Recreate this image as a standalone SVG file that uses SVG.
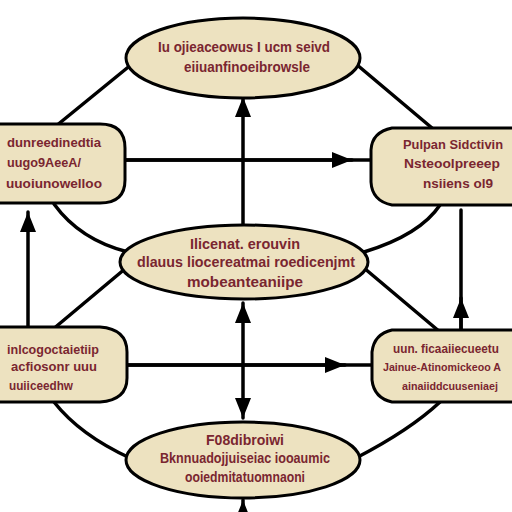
<svg xmlns="http://www.w3.org/2000/svg" width="512" height="512" viewBox="0 0 512 512">
<style>
.n{fill:#ede2c0;stroke:#000;stroke-width:3}
.c{fill:none;stroke:#000;stroke-width:3.5;stroke-linecap:round}
.t{font-family:"Liberation Sans",Arial,sans-serif;font-weight:bold;font-size:15px;fill:#7a2630;text-anchor:middle}
.s{font-size:13px}
.x{font-size:11px}
</style>
<defs>
<marker id="a" viewBox="0 0 20 16" refX="20" refY="8" markerWidth="20" markerHeight="16" markerUnits="userSpaceOnUse" orient="auto-start-reverse">
<path d="M0,0 L20,8 L0,16 z" fill="#000"/>
</marker>
</defs>
<rect width="512" height="512" fill="#fff"/>
<g id="connectors">
<path class="c" d="M132,64 L56,126"/>
<path class="c" d="M356,64 L432,128"/>
<path class="c" d="M54,204 Q80,240 128,252"/>
<path class="c" d="M126,268 L52,330"/>
<path class="c" d="M440,205 Q420,235 364,252"/>
<path class="c" d="M364,268 L440,332"/>
<path class="c" d="M54,402 Q80,435 130,458"/>
<path class="c" d="M356,458 Q410,430 440,402"/>
<path class="c" d="M125,160 L370,160"/>
<path class="c" d="M125,160 L352,160" marker-end="url(#a)"/>
<path class="c" d="M127,365 L372,365"/>
<path class="c" d="M127,365 L345,365" marker-end="url(#a)"/>
<path class="c" d="M243,226 L243,97" marker-end="url(#a)"/>
<path class="c" d="M28,327 L28,212" marker-end="url(#a)"/>
<path class="c" d="M461,210 L461,330"/>
<path class="c" d="M461,330 L461,298" marker-end="url(#a)"/>
<path class="c" d="M243,303 L243,418" marker-start="url(#a)" marker-end="url(#a)"/>
<path class="c" d="M243,512 L243,500" marker-end="url(#a)"/>
</g>
<g id="node-top">
<ellipse class="n" cx="243" cy="58" rx="117" ry="40"/>
<text class="t" x="244" y="52" textLength="172" lengthAdjust="spacingAndGlyphs">Iu ojieaceowus I ucm seivd</text>
<text class="t" x="247" y="72" textLength="126" lengthAdjust="spacingAndGlyphs">eiiuanfinoeibrowsle</text>
</g>
<g id="node-left-top">
<path class="n" d="M-10,124 L100,124 Q125,124 125,148 L125,180 Q125,203 100,203 L-10,203 z"/>
<text class="t s" x="54" y="147" textLength="94" lengthAdjust="spacingAndGlyphs">dunreedinedtia</text>
<text class="t s" x="44" y="167" textLength="74" lengthAdjust="spacingAndGlyphs">uugo9AeeA/</text>
<text class="t s" x="54" y="188" textLength="96" lengthAdjust="spacingAndGlyphs">uuoiunowelloo</text>
</g>
<g id="node-right-top">
<path class="n" d="M520,128 L392,128 Q372,132 371,150 L371,182 Q372,201 392,205 L520,205 z"/>
<text class="t s" x="453" y="149" textLength="100" lengthAdjust="spacingAndGlyphs">Pulpan Sidctivin</text>
<text class="t s" x="452" y="168" textLength="96" lengthAdjust="spacingAndGlyphs">Nsteoolpreeep</text>
<text class="t s" x="458" y="188" textLength="70" lengthAdjust="spacingAndGlyphs">nsiiens ol9</text>
</g>
<g id="node-center">
<ellipse class="n" cx="244" cy="262" rx="124" ry="37"/>
<text class="t" x="245" y="249" textLength="110" lengthAdjust="spacingAndGlyphs">Ilicenat. erouvin</text>
<text class="t" x="246" y="267" textLength="218" lengthAdjust="spacingAndGlyphs">dlauus liocereatmai roedicenjmt</text>
<text class="t" x="245" y="287" textLength="116" lengthAdjust="spacingAndGlyphs">mobeanteaniipe</text>
</g>
<g id="node-left-bottom">
<path class="n" d="M-10,327 L100,327 Q127,329 127,352 L127,378 Q127,400 100,402 L-10,402 z"/>
<text class="t s" x="53" y="354" textLength="92" lengthAdjust="spacingAndGlyphs">inlcogoctaietiip</text>
<text class="t s" x="54" y="371" textLength="86" lengthAdjust="spacingAndGlyphs">acfiosonr uuu</text>
<text class="t s" x="41" y="390" textLength="64" lengthAdjust="spacingAndGlyphs">uuiiceedhw</text>
</g>
<g id="node-right-bottom">
<path class="n" d="M520,330 L392,330 Q374,334 372,352 L372,380 Q374,398 392,402 L520,402 z"/>
<text class="t s" x="446" y="353" textLength="106" lengthAdjust="spacingAndGlyphs">uun. ficaaiiecueetu</text>
<text class="t x" x="442" y="371" textLength="118" lengthAdjust="spacingAndGlyphs">Jainue-Atinomickeoo A</text>
<text class="t x" x="450" y="390" textLength="96" lengthAdjust="spacingAndGlyphs">ainaiiddcuuseniaej</text>
</g>
<g id="node-bottom">
<ellipse class="n" cx="243" cy="460" rx="117" ry="38"/>
<text class="t" x="245" y="445" textLength="78" lengthAdjust="spacingAndGlyphs">F08dibroiwi</text>
<text class="t" x="245" y="463" textLength="170" lengthAdjust="spacingAndGlyphs">Bknnuadojjuiseiac iooaumic</text>
<text class="t" x="245" y="482" textLength="120" lengthAdjust="spacingAndGlyphs">ooiedmitatuomnaoni</text>
</g>
</svg>
